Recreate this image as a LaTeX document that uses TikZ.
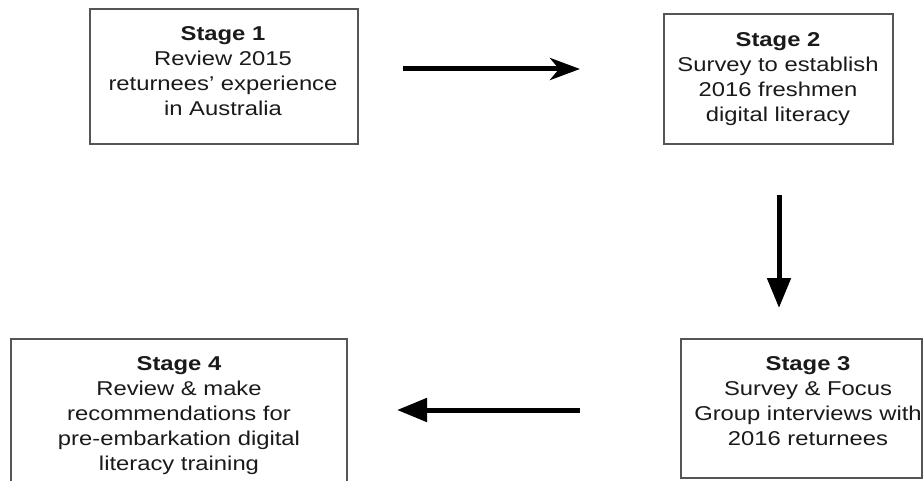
\documentclass[tikz,border=0pt]{standalone}
\usepackage{fontspec}
\setmainfont{Liberation Sans}[FakeStretch=1.19]
\usetikzlibrary{arrows.meta}
\definecolor{boxline}{HTML}{555555}
\definecolor{txt}{HTML}{1A1A1A}
\tikzset{
  stagebox/.style={draw=boxline, line width=1.5pt, rectangle, inner sep=0pt},
  stagetext/.style={anchor=north, inner sep=0pt, align=center, text=txt,
    font=\fontsize{20}{25}\selectfont},
  flow/.style={line width=5pt, draw=black},
  tri/.style={flow, -{Triangle[length=30pt, width=23pt]}},
  stl/.style={flow, -{Stealth[length=30pt, width=22pt, inset=9pt]}}
}
\begin{document}
\begin{tikzpicture}[x=1pt, y=-1pt]
\useasboundingbox (0,0) rectangle (923,481);
\clip (0,0) rectangle (923,481);
\fill[white] (0,0) rectangle (923,481);

\node[stagebox, minimum width=268pt, minimum height=135pt] (s1) at (224,76.5) {};
\node[stagebox, minimum width=229pt, minimum height=130pt] (s2) at (778.5,79) {};
\node[stagebox, minimum width=241pt, minimum height=139pt] (s3) at (801.5,408.5) {};
\node[stagebox, minimum width=336pt, minimum height=151pt] (s4) at (179,414.5) {};

\node[stagetext] (t1) at (223,26) {\textbf{Stage 1}\\Review 2015\\returnees’ experience\\in Australia};
\node[stagetext] (t2) at (778,32) {\textbf{Stage 2}\\Survey to establish\\2016 freshmen\\digital literacy};
\node[stagetext] (t3) at (808,356) {\textbf{Stage 3}\\Survey \& Focus\\Group interviews with\\2016 returnees};
\node[stagetext] (t4) at (179,356) {\textbf{Stage 4}\\Review \& make\\recommendations for\\pre-embarkation digital\\literacy training};

\coordinate (a1s) at (403,69);
\coordinate (a1e) at (580,69);
\coordinate (a2s) at (779,195);
\coordinate (a2e) at (779,308);
\coordinate (a3s) at (580,410);
\coordinate (a3e) at (397,410);

\draw[stl] (a1s) -- (a1e);
\draw[tri] (a2s) -- (a2e);
\draw[tri] (a3s) -- (a3e);
\end{tikzpicture}
\end{document}
